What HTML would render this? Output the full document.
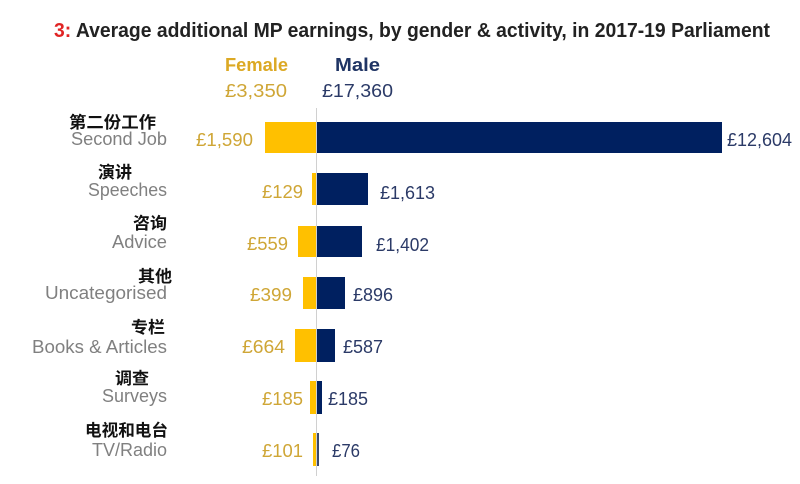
<!DOCTYPE html>
<html>
<head>
<meta charset="utf-8">
<style>
  html,body{margin:0;padding:0;background:#fff;}
  svg{display:block;}
  .t{font-family:"Liberation Sans","Noto Sans CJK SC",sans-serif;}
  .cn{font-family:"Liberation Sans","Noto Sans CJK SC",sans-serif;font-weight:bold;font-size:16.5px;fill:#111;}
  .en{font-family:"Liberation Sans",sans-serif;font-size:18px;fill:#808080;}
  .fv{font-family:"Liberation Sans",sans-serif;font-size:18px;fill:#cfa636;}
  .mv{font-family:"Liberation Sans",sans-serif;font-size:18px;fill:#2b3a67;}
</style>
</head>
<body>
<svg width="800" height="484" viewBox="0 0 800 484" xmlns="http://www.w3.org/2000/svg">
  <rect width="800" height="484" fill="#fff"/>
  <!-- Title -->
  <text class="t" x="54" y="37" font-size="20" font-weight="bold" fill="#222" textLength="716" lengthAdjust="spacingAndGlyphs"><tspan fill="#e02424">3:</tspan> Average additional MP earnings, by gender &amp; activity, in 2017-19 Parliament</text>

  <!-- Headers -->
  <text class="t" x="225" y="71" font-size="18" font-weight="bold" fill="#dca924" textLength="63" lengthAdjust="spacingAndGlyphs">Female</text>
  <text class="t" x="335" y="71" font-size="18" font-weight="bold" fill="#1f3464" textLength="45" lengthAdjust="spacingAndGlyphs">Male</text>
  <text class="fv" x="225" y="97" font-size="19" textLength="62" lengthAdjust="spacingAndGlyphs">£3,350</text>
  <text class="mv" x="322" y="97" font-size="19" textLength="71" lengthAdjust="spacingAndGlyphs">£17,360</text>

  <!-- center line -->
  <line x1="316.5" y1="108" x2="316.5" y2="476" stroke="#d0d0d0" stroke-width="1"/>

  <!-- Bars -->
  <g>
    <rect x="265" y="122" width="51" height="31" fill="#ffc000"/>
    <rect x="317" y="122" width="405" height="31" fill="#002060"/>

    <rect x="312" y="173" width="4" height="32" fill="#ffc000"/>
    <rect x="317" y="173" width="51" height="32" fill="#002060"/>

    <rect x="298" y="226" width="18" height="31" fill="#ffc000"/>
    <rect x="317" y="226" width="45" height="31" fill="#002060"/>

    <rect x="303" y="277" width="13" height="32" fill="#ffc000"/>
    <rect x="317" y="277" width="28" height="32" fill="#002060"/>

    <rect x="295" y="329" width="21" height="33" fill="#ffc000"/>
    <rect x="317" y="329" width="18" height="33" fill="#002060"/>

    <rect x="310" y="381" width="6" height="33" fill="#ffc000"/>
    <rect x="317" y="381" width="5" height="33" fill="#002060"/>

    <rect x="313" y="433" width="3" height="33" fill="#ffc000"/>
    <rect x="317" y="433" width="2" height="33" fill="#3a4a70"/>
  </g>

  <!-- Chinese labels -->
  <text class="cn" x="69" y="128" textLength="87" lengthAdjust="spacingAndGlyphs">第二份工作</text>
  <text class="cn" x="98" y="178" textLength="34" lengthAdjust="spacingAndGlyphs">演讲</text>
  <text class="cn" x="133" y="229" textLength="34" lengthAdjust="spacingAndGlyphs">咨询</text>
  <text class="cn" x="138" y="282" textLength="34" lengthAdjust="spacingAndGlyphs">其他</text>
  <text class="cn" x="131" y="333" textLength="34" lengthAdjust="spacingAndGlyphs">专栏</text>
  <text class="cn" x="115" y="384" textLength="34" lengthAdjust="spacingAndGlyphs">调查</text>
  <text class="cn" x="85" y="436" textLength="83" lengthAdjust="spacingAndGlyphs">电视和电台</text>

  <!-- English labels -->
  <text class="en" x="71" y="145" textLength="96" lengthAdjust="spacingAndGlyphs">Second Job</text>
  <text class="en" x="88" y="196" textLength="79" lengthAdjust="spacingAndGlyphs">Speeches</text>
  <text class="en" x="112" y="248" textLength="55" lengthAdjust="spacingAndGlyphs">Advice</text>
  <text class="en" x="45" y="299" textLength="122" lengthAdjust="spacingAndGlyphs">Uncategorised</text>
  <text class="en" x="32" y="353" textLength="135" lengthAdjust="spacingAndGlyphs">Books &amp; Articles</text>
  <text class="en" x="102" y="402" textLength="65" lengthAdjust="spacingAndGlyphs">Surveys</text>
  <text class="en" x="92" y="456" textLength="75" lengthAdjust="spacingAndGlyphs">TV/Radio</text>

  <!-- Female values -->
  <text class="fv" x="196" y="146" textLength="57" lengthAdjust="spacingAndGlyphs">£1,590</text>
  <text class="fv" x="262" y="198" textLength="41" lengthAdjust="spacingAndGlyphs">£129</text>
  <text class="fv" x="247" y="250" textLength="41" lengthAdjust="spacingAndGlyphs">£559</text>
  <text class="fv" x="250" y="301" textLength="42" lengthAdjust="spacingAndGlyphs">£399</text>
  <text class="fv" x="242" y="353" textLength="43" lengthAdjust="spacingAndGlyphs">£664</text>
  <text class="fv" x="262" y="405" textLength="41" lengthAdjust="spacingAndGlyphs">£185</text>
  <text class="fv" x="262" y="457" textLength="41" lengthAdjust="spacingAndGlyphs">£101</text>

  <!-- Male values -->
  <text class="mv" x="727" y="146" textLength="65" lengthAdjust="spacingAndGlyphs">£12,604</text>
  <text class="mv" x="380" y="199" textLength="55" lengthAdjust="spacingAndGlyphs">£1,613</text>
  <text class="mv" x="376" y="251" textLength="53" lengthAdjust="spacingAndGlyphs">£1,402</text>
  <text class="mv" x="353" y="301" textLength="40" lengthAdjust="spacingAndGlyphs">£896</text>
  <text class="mv" x="343" y="353" textLength="40" lengthAdjust="spacingAndGlyphs">£587</text>
  <text class="mv" x="328" y="405" textLength="40" lengthAdjust="spacingAndGlyphs">£185</text>
  <text class="mv" x="332" y="457" textLength="28" lengthAdjust="spacingAndGlyphs">£76</text>
</svg>
</body>
</html>
